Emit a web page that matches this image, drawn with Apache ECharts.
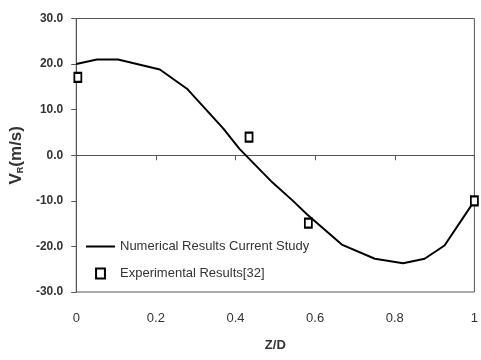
<!DOCTYPE html>
<html><head><meta charset="utf-8">
<script src="https://cdn.jsdelivr.net/npm/echarts@6/dist/echarts.min.js"></script>
<style>html,body{margin:0;padding:0;background:#fff}#c{width:481px;height:360px}</style>
</head><body><div id="c"></div>
<script>
const numX = [0, 0.052, 0.105, 0.21, 0.278, 0.369, 0.41, 0.493, 0.543, 0.58, 0.667, 0.75, 0.821, 0.875, 0.925, 1.0];
const numY = [20.0, 21.0, 21.0, 18.8, 14.6, 5.9, 1.4, -6.0, -9.9, -13.0, -19.6, -22.7, -23.7, -22.7, -19.8, -10.0];
const expX = [0.004, 0.434, 0.583, 1.0];
const expY = [17.1, 4.0, -14.9, -10.0];
const xTicks = ['0', '0.2', '0.4', '0.6', '0.8', '1'];
const seriesNames = ['Numerical Results Current Study', 'Experimental Results[32]'];
const FONT = '"Liberation Sans", Arial, sans-serif';

const chart = echarts.init(document.getElementById('c'));
chart.setOption({
  animation: false,
  backgroundColor: '#fff',
  grid: { left: 75, right: 4, top: 18.5, bottom: 68, show: true, borderColor: '#555', borderWidth: 1 },
  legend: {
    orient: 'vertical', left: 86, top: 240, padding: 0, itemWidth: 29, itemHeight: 10, itemGap: 14,
    textStyle: { fontFamily: FONT, fontSize: 13, color: '#333' },
    data: [
      { name: seriesNames[0], icon: 'path://M0,0h29v2h-29z', itemStyle: { color: '#000', borderWidth: 0 } },
      { name: seriesNames[1], icon: 'path://M0,0h8v9h-8z', itemStyle: { color: '#fff', borderColor: '#000', borderWidth: 2 } }
    ]
  },
  xAxis: {
    type: 'value', min: 0, max: 1, interval: 0.2,
    name: 'Z/D', nameLocation: 'middle', nameGap: 47,
    nameTextStyle: { fontFamily: FONT, fontSize: 13, fontWeight: 'bold', color: '#333' },
    axisLine: { show: true, lineStyle: { color: '#555', width: 1 } },
    axisTick: { show: true, length: 5, lineStyle: { color: '#555' } },
    axisLabel: { margin: 20, fontFamily: FONT, fontSize: 13, color: '#333',
      formatter: v => xTicks[Math.round(v / 0.2)] },
    splitLine: { show: false }
  },
  yAxis: {
    type: 'value', min: -30, max: 30, interval: 10,
    name: '{b|V}{s|R}{b|(m/s)}', nameLocation: 'middle', nameGap: 36,
    nameTextStyle: { fontFamily: FONT, fontSize: 17, fontWeight: 'bold', color: '#333', rich: {
      b: { fontFamily: FONT, fontSize: 17, fontWeight: 'bold', color: '#333' },
      s: { fontFamily: FONT, fontSize: 9, fontWeight: 'bold', color: '#333', verticalAlign: 'bottom', padding: [8, 0, 0, 0] }
    } },
    axisLine: { show: true, lineStyle: { color: '#555', width: 1 } },
    axisTick: { show: true, length: 5, lineStyle: { color: '#555' } },
    axisLabel: { margin: 13, fontFamily: FONT, fontSize: 12, color: '#333', fontWeight: 'bold',
      formatter: v => v.toFixed(1) },
    splitLine: { show: false }
  },
  series: [
    { name: seriesNames[0], type: 'line', symbol: 'none', lineStyle: { color: '#000', width: 2 },
      itemStyle: { color: '#000' },
      data: numX.map((x, i) => [x, numY[i]]) },
    { name: seriesNames[1], type: 'scatter', symbol: 'rect', symbolSize: [7, 9],
      itemStyle: { color: '#fff', borderColor: '#000', borderWidth: 2, opacity: 1 },
      data: expX.map((x, i) => [x, expY[i]]), z: 5 }
  ]
});
</script></body></html>
